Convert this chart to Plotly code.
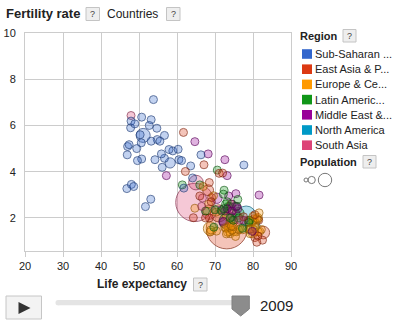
import plotly.graph_objects as go

# ---------------------------------------------------------------
# Country data, 2009: life expectancy (years), fertility rate
# (births per woman) and population (millions), grouped by region.
# ---------------------------------------------------------------
ssa_life = [53.8, 50.7, 53.2, 47.9, 48.9, 52.7, 47.8, 54.7, 51.1, 50.3,
            56.7, 50.6, 53.2, 54.8, 55.5, 47.4, 47.0, 49.4, 46.9, 55.9,
            57.9, 58.9, 50.7, 49.6, 54.2, 56.7, 58.2, 60.5, 56.1, 48.0,
            48.6, 46.8, 53.1, 51.7, 63.6, 66.3, 64.1, 61.8, 77.6, 60.3,
            61.2]
ssa_fert = [7.12, 6.36, 6.25, 6.19, 6.07, 6.00, 5.90, 5.88, 5.57, 5.60,
            5.57, 5.25, 5.32, 5.39, 5.32, 5.17, 5.09, 5.00, 4.73, 4.77,
            4.96, 4.90, 4.55, 4.48, 4.52, 4.58, 4.38, 4.52, 4.19, 3.45,
            3.36, 3.27, 2.81, 2.49, 4.25, 4.73, 3.73, 3.29, 4.29, 4.97,
            4.48]
ssa_pop = [15.3, 13.0, 32.7, 9.0, 6.5, 8.3, 18.5, 15.8, 155.0, 11.2,
           43.7, 3.7, 12.9, 22.9, 15.3, 4.4, 5.7, 10.1, 1.6, 19.6,
           8.9, 12.5, 19.5, 1.6, 10.0, 21.0, 82.8, 6.6, 3.9, 2.1,
           1.2, 12.5, 1.9, 49.3, 42.3, 0.6, 1.5, 2.2, 0.1, 6.6,
           0.8]

eap_life = [61.7, 62.2, 67.1, 71.1, 72.0, 68.5, 68.2, 66.0, 69.1, 64.3,
            71.0, 67.5, 68.5, 69.0, 74.2, 74.6, 73.8, 73.1, 82.7, 80.5,
            81.3, 82.5, 81.0, 81.5, 80.5, 77.5]
eap_fert = [5.70, 4.01, 4.30, 3.93, 3.94, 3.53, 3.20, 2.95, 2.88, 2.01,
            2.20, 2.00, 2.00, 2.70, 2.60, 1.85, 1.60, 1.55, 1.37, 1.15,
            1.22, 1.04, 0.95, 1.90, 2.14, 2.05]
eap_pop = [1.1, 6.7, 0.1, 0.18, 0.1, 0.5, 92.0, 14.0, 6.3, 50.0,
           230.0, 2.7, 24.0, 0.85, 27.5, 86.0, 67.8, 1331.0, 127.6, 48.7,
           5.0, 7.0, 0.5, 22.0, 4.3, 0.4]

eca_life = [66.9, 69.6, 64.7, 67.9, 68.3, 70.3, 73.2, 68.7, 68.7, 70.4,
            68.9, 73.8, 72.6, 76.6, 75.4, 73.9, 74.5, 74.3, 76.2, 79.2,
            73.4, 73.3, 74.0, 75.1, 77.3, 75.7, 72.9, 73.0, 74.8, 80.0,
            81.3, 80.2, 81.7, 81.4, 79.2, 80.0, 80.6, 80.0, 80.6, 82.2,
            80.4, 78.9, 81.0, 81.3, 79.9, 81.6, 80.0, 79.3]
eca_fert = [3.36, 2.96, 2.42, 2.30, 2.60, 2.25, 2.10, 1.54, 1.39, 1.43,
            1.48, 1.74, 1.58, 1.53, 1.20, 1.40, 1.47, 1.65, 1.49, 1.53,
            1.57, 1.38, 1.32, 1.41, 1.49, 1.40, 1.55, 1.31, 1.62, 1.36,
            2.00, 1.94, 1.41, 1.40, 1.32, 1.52, 1.79, 1.84, 1.59, 1.50,
            1.39, 1.84, 1.98, 1.94, 1.86, 2.22, 2.07, 1.50]
eca_pop = [7.0, 5.3, 5.0, 27.8, 15.9, 8.9, 71.9, 142.0, 46.0, 9.7,
           3.6, 3.1, 4.4, 3.2, 3.8, 7.3, 2.0, 0.6, 4.4, 2.0,
           7.6, 21.5, 10.0, 5.4, 10.5, 38.1, 3.3, 2.3, 1.3, 82.0,
           62.6, 61.8, 60.0, 46.0, 10.6, 11.3, 16.5, 10.8, 0.5, 7.7,
           8.4, 5.5, 4.8, 9.3, 5.3, 0.3, 4.5, 0.9]

lac_life = [61.4, 66.0, 70.6, 72.4, 73.2, 72.2, 76.0, 67.5, 70.0, 75.2,
            73.5, 72.8, 71.7, 73.9, 76.1, 73.2, 75.5, 73.1, 78.8, 76.2,
            79.1, 75.8, 78.9, 72.3, 69.7, 74.8, 77.2, 78.9, 74.0]
lac_fert = [3.43, 3.43, 4.07, 3.20, 2.70, 3.03, 2.80, 2.30, 2.35, 2.50,
            2.50, 2.60, 2.30, 2.50, 2.20, 2.40, 2.20, 1.85, 1.90, 2.00,
            1.90, 2.50, 1.50, 2.40, 1.60, 1.90, 1.55, 1.80, 2.00]
lac_pop = [9.9, 9.9, 14.0, 7.5, 5.7, 6.3, 0.3, 0.76, 0.5, 14.0,
           29.0, 9.9, 6.2, 28.4, 107.0, 45.0, 40.0, 194.0, 17.0, 3.3,
           4.6, 3.5, 11.2, 2.7, 1.3, 0.34, 0.27, 4.0, 0.17]

mena_life = [64.7, 68.2, 72.6, 57.2, 73.2, 70.5, 75.5, 73.6, 73.2, 72.6,
             71.6, 74.4, 74.5, 72.4, 72.1, 77.6, 76.0, 74.5, 75.6, 81.6,
             79.8]
mena_fert = [5.30, 4.77, 4.52, 3.83, 3.83, 2.85, 3.05, 2.95, 2.40, 2.30,
             2.35, 2.05, 2.60, 1.80, 1.85, 1.90, 2.40, 2.30, 2.50, 2.99,
             1.42]
mena_pop = [23.6, 31.5, 3.9, 0.86, 6.0, 83.0, 21.0, 25.7, 2.8, 35.0,
            31.8, 10.4, 6.3, 73.0, 4.2, 4.6, 1.4, 2.8, 0.8, 7.4,
            0.4]

nam_life = [78.2, 80.8]
nam_fert = [2.09, 1.66]
nam_pop = [307.0, 33.7]

sas_life = [47.9, 65.0, 64.7, 68.5, 66.7, 66.5, 74.6, 76.4]
sas_fert = [6.43, 3.53, 2.67, 2.25, 2.86, 2.50, 2.30, 1.90]
sas_pop = [29.8, 169.7, 1155.0, 162.0, 29.0, 0.7, 20.0, 0.3]

region_names = ["Sub-Saharan ...", "East Asia & P...", "Europe & Ce...",
                "Latin Americ...", "Middle East &...", "North America",
                "South Asia"]
x_ticks = [20, 30, 40, 50, 60, 70, 80, 90]
y_ticks = [2, 4, 6, 8, 10]
year_label = "2009"

# ---------------------------------------------------------------
# Styling
# ---------------------------------------------------------------
FONT = "Arial, 'Liberation Sans', sans-serif"
TEXT = "#222222"
GRID = "#cccccc"
region_rgb = [(51, 102, 204), (220, 57, 18), (255, 153, 0), (16, 150, 24),
              (153, 0, 153), (0, 153, 198), (221, 68, 119)]
series = [(ssa_life, ssa_fert, ssa_pop), (eap_life, eap_fert, eap_pop),
          (eca_life, eca_fert, eca_pop), (lac_life, lac_fert, lac_pop),
          (mena_life, mena_fert, mena_pop), (nam_life, nam_fert, nam_pop),
          (sas_life, sas_fert, sas_pop)]

points = []
for (life, fert, pop), rgb in zip(series, region_rgb):
    fill = "rgba(%d,%d,%d,0.42)" % rgb
    edge = "rgb(%d,%d,%d)" % tuple(int(c * 0.6) for c in rgb)
    for lx, fy, p in zip(life, fert, pop):
        points.append((p, lx, fy, fill, edge))
# big bubbles underneath, small ones on top
points.sort(key=lambda t: -t[0])

fig = go.Figure(go.Scatter(
    x=[t[1] for t in points],
    y=[t[2] for t in points],
    mode="markers",
    marker=dict(size=[t[0] for t in points], sizemode="area",
                sizeref=1.58, sizemin=4,
                color=[t[3] for t in points],
                line=dict(color=[t[4] for t in points], width=1)),
    hoverinfo="skip",
    showlegend=False,
))

# plot area in page pixels
L, R, T, B = 25, 291, 33, 251


def px(x):
    return (x - L) / (R - L)


def py(y):
    return (B - y) / (B - T)


shapes = []
annotations = []


def text(x, y, s, size=11, bold=False, anchor="left", color=TEXT):
    annotations.append(dict(
        x=px(x), y=py(y), xref="paper", yref="paper", text=("<b>%s</b>" % s) if bold else s,
        showarrow=False, xanchor=anchor, yanchor="middle",
        font=dict(family=FONT, size=size, color=color), borderpad=0))


def qbox(x0, y0, x1, y1):
    shapes.append(dict(type="rect", xref="paper", yref="paper",
                       x0=px(x0), x1=px(x1), y0=py(y1), y1=py(y0),
                       fillcolor="#eeeeee", line=dict(color="#c4c4c4", width=1),
                       layer="above"))
    text((x0 + x1) / 2, (y0 + y1) / 2, "?", size=9, anchor="center", color="#444444")


# header
text(5, 14, "Fertility rate", size=13, bold=True)
qbox(86, 7.5, 99.5, 20.5)
text(106, 14, "Countries", size=12)
qbox(166.5, 7.5, 180, 20.5)

# legend: region colours
text(298.5, 36, "Region", size=11, bold=True)
qbox(343, 29.5, 356, 42)
for i, (name, rgb) in enumerate(zip(region_names, region_rgb)):
    cy = 54 + i * 15.2
    shapes.append(dict(type="rect", xref="paper", yref="paper",
                       x0=px(302), x1=px(312), y0=py(cy + 4.8), y1=py(cy - 4.8),
                       fillcolor="rgb(%d,%d,%d)" % rgb, line=dict(width=0)))
    text(314, cy, name, size=11)

# legend: population sizes
text(298.5, 162, "Population", size=11, bold=True)
qbox(363, 155.5, 376, 168)
for cx, r in [(306, 2.0), (311.7, 3.6), (325, 6.7)]:
    shapes.append(dict(type="circle", xref="paper", yref="paper",
                       x0=px(cx - r), x1=px(cx + r), y0=py(180 + r), y1=py(180 - r),
                       fillcolor="white", line=dict(color="#777777", width=1)))

# x axis title
text(142, 284, "Life expectancy", size=12, bold=True, anchor="center")
qbox(193.5, 278, 207, 291)

# play button
shapes.append(dict(type="rect", xref="paper", yref="paper",
                   x0=px(6), x1=px(41.5), y0=py(319), y1=py(296),
                   fillcolor="#f3f3f3", line=dict(color="#c6c6c6", width=1)))
shapes.append(dict(type="path", xref="paper", yref="paper",
                   path="M %f %f L %f %f L %f %f Z" % (px(18.5), py(302), px(30.5), py(308),
                                                      px(18.5), py(314)),
                   fillcolor="#333333", line=dict(width=0)))

# time slider
shapes.append(dict(type="rect", xref="paper", yref="paper",
                   x0=px(58), x1=px(245), y0=py(305.3), y1=py(300),
                   fillcolor="#e4e4e4", line=dict(width=0)))
shapes.append(dict(type="circle", xref="paper", yref="paper",
                   x0=px(55.5), x1=px(60.8), y0=py(305.3), y1=py(300),
                   fillcolor="#e4e4e4", line=dict(width=0)))
shapes.append(dict(type="path", xref="paper", yref="paper",
                   path="M %f %f L %f %f L %f %f L %f %f L %f %f Z" % (
                       px(232), py(296), px(249.3), py(296), px(249.3), py(309),
                       px(240.7), py(316), px(232), py(309)),
                   fillcolor="#8c8c8c", line=dict(color="#808080", width=1)))
text(259, 305, year_label, size=15)

fig.update_layout(
    width=400, height=325,
    margin=dict(l=L, r=400 - R, t=T, b=325 - B, pad=0),
    paper_bgcolor="white", plot_bgcolor="white",
    font=dict(family=FONT, color=TEXT, size=11),
    shapes=shapes, annotations=annotations,
    xaxis=dict(range=[20, 90], tickvals=x_ticks, showgrid=True, gridcolor=GRID,
               gridwidth=1, zeroline=False, showline=True, linecolor=GRID,
               linewidth=1, mirror=True, ticks="outside", ticklen=5,
               tickcolor=GRID, tickfont=dict(size=11, color=TEXT),
               automargin=False),
    yaxis=dict(range=[0.57, 10], tickvals=y_ticks, showgrid=True, gridcolor=GRID,
               gridwidth=1, zeroline=False, showline=True, linecolor=GRID,
               linewidth=1, mirror=True, ticks="", ticklabelstandoff=6,
               tickfont=dict(size=11, color=TEXT), automargin=False),
    hovermode=False,
)

fig.write_html("out.html", config=dict(displayModeBar=False))
